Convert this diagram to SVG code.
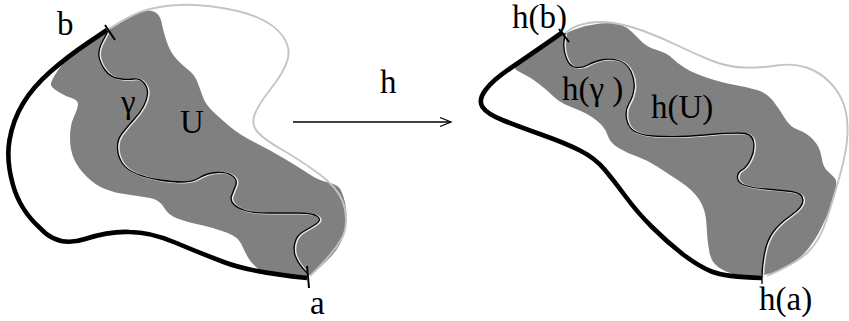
<svg xmlns="http://www.w3.org/2000/svg" width="849" height="321" viewBox="0 0 849 321">
<style>
.region{fill:#808080;stroke:none}
.outline{fill:none;stroke:#c4c4c4;stroke-width:1.9}
.thick{fill:none;stroke:#000;stroke-width:4.6;stroke-linecap:butt;stroke-linejoin:round}
.curveHi{fill:none;stroke:#e6e6e6;stroke-width:2}
.curve{fill:none;stroke:#000;stroke-width:1.3}
.tick{stroke:#000;stroke-width:2}
.lbl{font-family:"Liberation Serif","Times New Roman",serif;font-size:33px;fill:#000}
.arrow{fill:none;stroke:#000;stroke-width:1.3}
</style>
<rect width="849" height="321" fill="#fff"/>
<g id="left-figure">
<path class="region" d="M97,37 Q107,31 118.5,24 Q130,17 138.5,13 Q147,9 153.5,11.5 Q160,14 161.5,22 Q163,30 166.5,41 Q170,52 176.5,59 Q183,66 189,70.5 Q195,75 198,83.5 Q201,92 203.5,98.5 Q206,105 214,112.5 Q222,120 231,127.5 Q240,135 255,142.5 Q270,150 285,159 Q300,168 309,174 Q318,180 326.5,182 Q335,184 338.5,187 Q342,190 345,202.5 Q348,215 345,230 Q342,245 331,256.5 Q320,268 313.5,273 Q307,278 288.5,277 Q270,276 261,270.5 Q252,265 248,257.5 Q244,250 241,243.5 Q238,237 226.5,232.5 Q215,228 201,225 Q187,222 177.5,218.5 Q168,215 164,207.5 Q160,200 150,198 Q140,196 127.5,194.5 Q115,193 105,189 Q95,185 86.5,176.5 Q78,168 74,159 Q70,150 70,137.5 Q70,125 74,116.5 Q78,108 78,104 Q78,100 71.5,98 Q65,96 58.5,92 Q52,88 51,85 Q50,82 58.5,69.5 Q67,57 77,50 Q87,43 97,37 Z"/>
<path class="outline" d="M107,30 L123.5,20 Q140,10 162.5,6.5 Q185,3 212.5,6.5 Q240,10 257.5,17.5 Q275,25 283,36.5 Q291,48 287.5,60 Q284,72 271,88.5 Q258,105 254.5,115 Q251,125 258,132.5 Q265,140 282.5,150 Q300,160 318.5,173.5 Q337,187 342.5,201 Q348,215 345,230 Q342,245 310,276"/>
<g id="gamma-left">
<path class="curveHi" transform="translate(1.2,0.4)" d="M107,33 L102.5,41.5 Q98,50 99,56.5 Q100,63 105,70 Q110,77 118.5,78.5 Q127,80 133.5,79 Q140,78 144,83 Q148,88 147.5,94 Q147,100 143.5,106.5 Q140,113 133.5,120 Q127,127 122,133.5 Q117,140 117.5,148.5 Q118,157 122.5,163.5 Q127,170 137,174 Q147,178 160,180 Q173,182 183,182 Q193,182 200,177.5 Q207,173 217,172.5 Q227,172 232.5,176 Q238,180 235.5,186 Q233,192 231.5,196 Q230,200 233.5,204 Q237,208 245,210.5 Q253,213 268,213 Q283,213 298,213 Q313,213 317.5,216.5 Q322,220 316,224 Q310,228 303.5,231.5 Q297,235 295,242.5 Q293,250 295.5,256.5 Q298,263 302.5,268 L307,273"/>
<path class="curve" d="M107,33 L102.5,41.5 Q98,50 99,56.5 Q100,63 105,70 Q110,77 118.5,78.5 Q127,80 133.5,79 Q140,78 144,83 Q148,88 147.5,94 Q147,100 143.5,106.5 Q140,113 133.5,120 Q127,127 122,133.5 Q117,140 117.5,148.5 Q118,157 122.5,163.5 Q127,170 137,174 Q147,178 160,180 Q173,182 183,182 Q193,182 200,177.5 Q207,173 217,172.5 Q227,172 232.5,176 Q238,180 235.5,186 Q233,192 231.5,196 Q230,200 233.5,204 Q237,208 245,210.5 Q253,213 268,213 Q283,213 298,213 Q313,213 317.5,216.5 Q322,220 316,224 Q310,228 303.5,231.5 Q297,235 295,242.5 Q293,250 295.5,256.5 Q298,263 302.5,268 L307,273"/>
</g>
<path class="thick" d="M107,30 L87,43.5 Q67,57 50,72 Q33,87 23,103.5 Q13,120 9.5,140 Q6,160 13,185 Q20,210 40,228 Q58,248 85,239 Q110,231 130,232 Q150,232 175,242.5 Q200,253 225,262.5 Q250,272 307,278"/>
<line class="tick" x1="105" y1="25" x2="115" y2="40"/>
<line class="tick" x1="307" y1="266" x2="309" y2="288"/>
<text class="lbl" x="57" y="35">b</text>
<text class="lbl" x="121" y="113">γ</text>
<text class="lbl" x="180" y="133">U</text>
<text class="lbl" x="310" y="314">a</text>
</g>
<g id="arrow-h">
<line class="arrow" x1="293" y1="122" x2="450" y2="122"/>
<polyline class="arrow" points="440,117.5 451,122 440,126.5"/>
<text class="lbl" x="380" y="93">h</text>
</g>
<g id="right-figure">
<path class="region" d="M552.5,40.5 Q565,33 576,29 Q587,25 600,23.5 Q613,22 620,24.5 Q627,27 632,32 Q637,37 642,42 Q647,47 657,50 Q667,53 672,58 Q677,63 685,68 Q693,73 708,78 Q723,83 735,85 Q747,87 757,90 Q767,93 773.5,101.5 Q780,110 785,118.5 Q790,127 798.5,130 Q807,133 813.5,140 Q820,147 821.5,157 Q823,167 827.5,171 Q832,175 835,178.5 Q838,182 834,196 Q830,210 822,226.5 Q814,243 804.5,253 Q795,263 781,269.5 Q767,276 753.5,276.5 Q740,277 726,271.5 Q712,266 709.5,253 Q707,240 706.5,225 Q706,210 699.5,200 Q693,190 680,181.5 Q667,173 657,166.5 Q647,160 637,156.5 Q627,153 618.5,148 Q610,143 607.5,135 Q605,127 596,120 Q587,113 573.5,108 Q560,103 553.5,96.5 Q547,90 538.5,83.5 Q530,77 522.5,73.5 Q515,70 515,68 Q515,66 527.5,57 Q540,48 552.5,40.5 Z"/>
<path class="outline" d="M565,33 L571,29 Q577,25 588.5,23 Q600,21 613.5,23 Q627,25 643.5,31 Q660,37 676.5,45 Q693,53 710,60 Q727,67 743.5,67.5 Q760,68 776.5,65.5 Q793,63 806.5,67.5 Q820,72 830,82.5 Q840,93 844,105 Q848,117 847.5,133.5 Q847,150 840,175 Q833,200 826.5,220 Q820,240 808.5,251.5 Q797,263 767,276"/>
<g id="gamma-right">
<path class="curveHi" transform="translate(1.2,0.4)" d="M565,33 L564,41.5 Q563,50 566.5,58.5 Q570,67 576.5,67.5 Q583,68 588,65 Q593,62 601.5,60 Q610,58 618.5,60.5 Q627,63 631,71.5 Q635,80 634,88.5 Q633,97 629,103.5 Q625,110 626.5,118.5 Q628,127 634,131 Q640,135 653.5,136 Q667,137 680,136.5 Q693,136 710,134.5 Q727,133 739.5,133 Q752,133 753.5,141.5 Q755,150 751,158.5 Q747,167 742,170 Q737,173 737.5,178 Q738,183 745.5,185.5 Q753,188 766.5,189 Q780,190 791.5,191.5 Q803,193 803,200 Q803,207 791.5,215 Q780,223 773.5,231.5 Q767,240 764.5,253.5 Q762,267 762,277"/>
<path class="curve" d="M565,33 L564,41.5 Q563,50 566.5,58.5 Q570,67 576.5,67.5 Q583,68 588,65 Q593,62 601.5,60 Q610,58 618.5,60.5 Q627,63 631,71.5 Q635,80 634,88.5 Q633,97 629,103.5 Q625,110 626.5,118.5 Q628,127 634,131 Q640,135 653.5,136 Q667,137 680,136.5 Q693,136 710,134.5 Q727,133 739.5,133 Q752,133 753.5,141.5 Q755,150 751,158.5 Q747,167 742,170 Q737,173 737.5,178 Q738,183 745.5,185.5 Q753,188 766.5,189 Q780,190 791.5,191.5 Q803,193 803,200 Q803,207 791.5,215 Q780,223 773.5,231.5 Q767,240 764.5,253.5 Q762,267 762,277 L762,284"/>
</g>
<path class="thick" d="M563,32 L545,44.5 Q527,57 510,68.5 Q493,80 485.5,90 Q478,100 482.5,107 Q487,114 503.5,120.5 Q520,127 542.5,135 Q565,143 580,150.5 Q595,158 605,170 Q615,182 626,197 Q637,212 652,227 Q667,242 682.5,254 Q698,266 711.5,271.5 Q725,277 762,278"/>
<line class="tick" x1="559" y1="29" x2="569" y2="42"/>
<text class="lbl" x="512" y="28">h(b)</text>
<text class="lbl" x="562" y="100">h(γ )</text>
<text class="lbl" x="651" y="118">h(U)</text>
<text class="lbl" x="759" y="310">h(a)</text>
</g>
</svg>
